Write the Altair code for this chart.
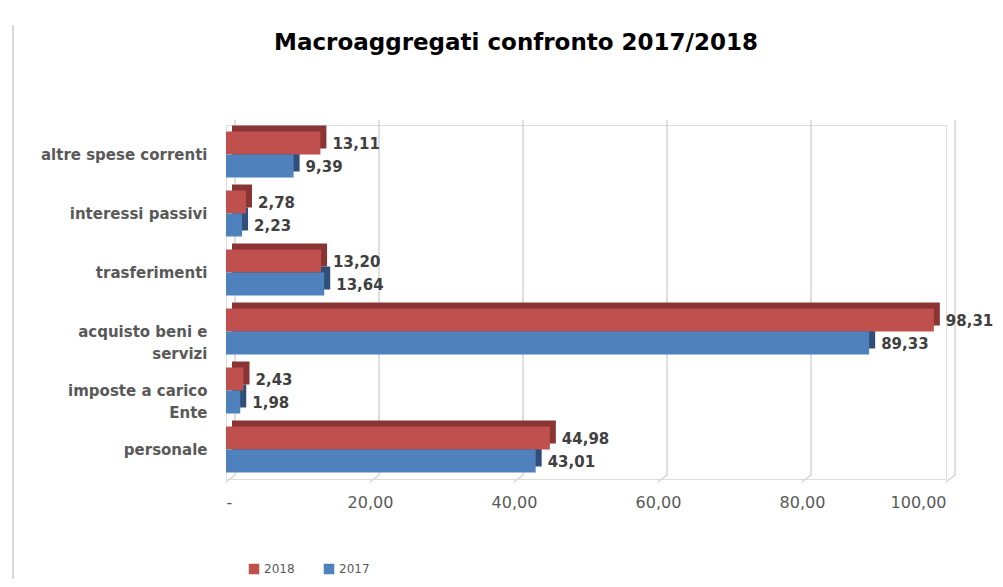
import altair as alt
import pandas as pd

categories = ["altre spese correnti", "interessi passivi", "trasferimenti",
              "acquisto beni e|servizi", "imposte a carico|Ente", "personale"]
v2018 = [13.11, 2.78, 13.20, 98.31, 2.43, 44.98]
v2017 = [9.39, 2.23, 13.64, 89.33, 1.98, 43.01]
ticks = [0, 20, 40, 60, 80, 100]
title_text = ["Macroaggregati confronto 2017/2018"]

RED, BLUE = "#C0504D", "#4F81BD"
RED_D, BLUE_D = "#8A3533", "#2F4F78"
W, H = 720, 354
BAR_H = 23
DEPTH = 6
FONT = "DejaVu Sans"

d18 = pd.DataFrame({"cat": categories, "v": v2018, "serie": "2018"})
d17 = pd.DataFrame({"cat": categories, "v": v2017, "serie": "2017"})
dt = pd.DataFrame({"t": ticks})
dtitle = pd.DataFrame({"txt": title_text})

xs = alt.Scale(domain=[0, 100], nice=False, zero=True)
ys = alt.Scale(paddingInner=0, paddingOuter=0)
col = alt.Scale(domain=["2018", "2017"], range=[RED, BLUE])

xenc = alt.X("v:Q", scale=xs, axis=alt.Axis(
    values=ticks, grid=False, domain=False, ticks=False, labelPadding=15,
    labelFont=FONT, labelFontSize=16, labelColor="#595959",
    labelExpr="datum.value == 0 ? '-' : replace(format(datum.value, '.2f'), '.', ',')"),
    title=None)
yenc = alt.Y("cat:N", sort=categories, scale=ys, axis=alt.Axis(
    domain=False, ticks=False, labelPadding=19, labelFont=FONT,
    labelFontSize=15, labelFontWeight="bold", labelColor="#595959",
    labelLineHeight=22, labelLimit=300,
    labelExpr="split(datum.value, '|')"), title=None)

grid_v = alt.Chart(dt).mark_rule(color="#d4d4d4", strokeWidth=1.5, xOffset=9, x2Offset=9).encode(
    x=alt.X("t:Q", scale=xs), y=alt.value(-5), y2=alt.value(H - 4))
grid_d = alt.Chart(dt).mark_rule(color="#d4d4d4", strokeWidth=1.5, xOffset=9, x2Offset=0).encode(
    x=alt.X("t:Q", scale=xs), x2="t:Q", y=alt.value(H - 4), y2=alt.value(H + 3))

frame = alt.Chart(dt).mark_rule(color="#d9d9d9", strokeWidth=1.5).encode(
    x=alt.value(-213), y=alt.value(-100), y2=alt.value(H + 120))

title = alt.Chart(dtitle).mark_text(font=FONT, fontSize=23, fontWeight="bold", color="#000000",
                                    align="center", baseline="alphabetic").encode(
    text="txt:N", x=alt.value(290), y=alt.value(-75))


def bars(df, color_dark, off):
    shadow = alt.Chart(df).mark_bar(color=color_dark, height=BAR_H, xOffset=DEPTH, x2Offset=DEPTH,
                                    yOffset=off - DEPTH, y2Offset=off - DEPTH).encode(x=xenc, y=yenc)
    front = alt.Chart(df).mark_bar(height=BAR_H, yOffset=off, y2Offset=off).encode(
        x=xenc, y=yenc,
        color=alt.Color("serie:N", scale=col, sort=["2018", "2017"], legend=alt.Legend(
            orient="none", legendX=22, legendY=438, direction="horizontal", title=None,
            symbolType="square", symbolSize=110, symbolStrokeWidth=0, labelFont=FONT,
            labelFontSize=12, labelColor="#595959", columnPadding=28)))
    lab = alt.Chart(df).transform_calculate(
        lbl="replace(format(datum.v, '.2f'), '.', ',')"
    ).mark_text(align="left", baseline="middle", dx=12, dy=off + 1, font=FONT,
                fontSize=15, fontWeight="bold", color="#404040").encode(
        x=xenc, y=yenc, text="lbl:N")
    return shadow, front, lab


s18, f18, l18 = bars(d18, RED_D, -BAR_H / 2)
s17, f17, l17 = bars(d17, BLUE_D, BAR_H / 2)

chart = alt.layer(frame, grid_v, grid_d, s18, s17, f18, f17, l18, l17, title).properties(
    width=W, height=H,
    autosize=alt.AutoSizeParams(type="none"),
    padding={"left": 218, "top": 117, "right": 49, "bottom": 100},
).configure_view(stroke=None).configure(background="white")

chart.save("out.html", embed_options={"renderer": "svg", "actions": False})
